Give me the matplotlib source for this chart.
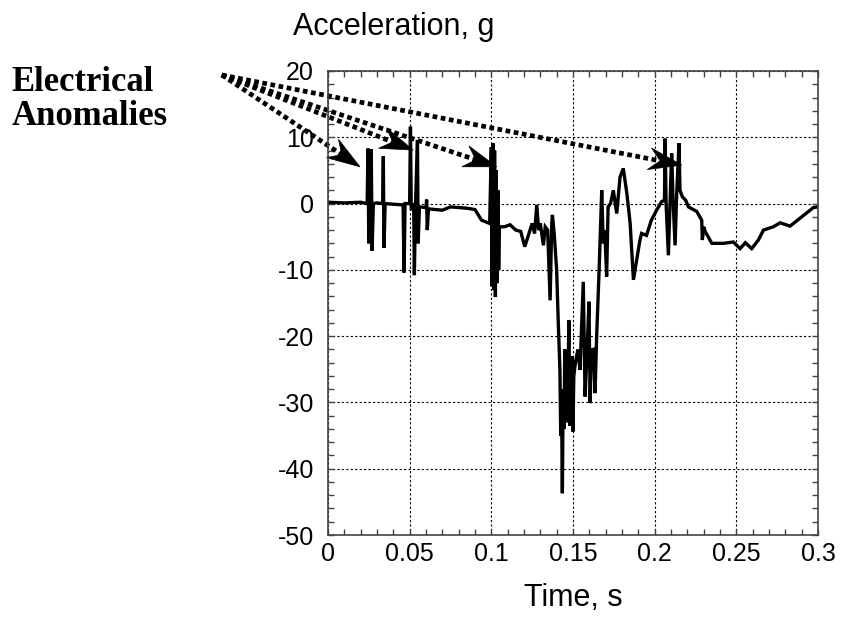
import matplotlib
matplotlib.use("Agg")
import matplotlib.pyplot as plt
import numpy as np
from matplotlib.patches import Polygon
from matplotlib.ticker import MultipleLocator

plt.rcParams['font.family'] = ['Liberation Sans', 'DejaVu Sans']
plt.rcParams['axes.unicode_minus'] = False

# acceleration trace (time in s, accel in g)
time_s = [
    0.000, 0.010, 0.020, 0.0240, 0.0245, 0.0250, 0.0258, 0.0265, 0.0270, 0.0278,
    0.0300, 0.0335, 0.0339, 0.0343, 0.0350, 0.0400, 0.0460, 0.0466, 0.0472, 0.0500,
    0.0505, 0.0510, 0.0525, 0.0529, 0.0535, 0.0548, 0.0552, 0.0560, 0.0600, 0.0604,
    0.0608, 0.0615, 0.0700, 0.0750, 0.0850, 0.0900, 0.0940, 0.0990, 0.1000, 0.1005,
    0.1010, 0.1015, 0.1020, 0.1025, 0.1030, 0.1035, 0.1040, 0.1045, 0.1050, 0.1080,
    0.1115, 0.1150, 0.1180, 0.1205, 0.1237, 0.1250, 0.1265, 0.1278, 0.1290, 0.1300,
    0.1319, 0.1330, 0.1345, 0.1360, 0.1370, 0.1374, 0.1385, 0.1400, 0.1410, 0.1420,
    0.1425, 0.1430, 0.1435, 0.1440, 0.1445, 0.1450, 0.1455, 0.1460, 0.1465, 0.1470,
    0.1475, 0.1480, 0.1485, 0.1490, 0.1495, 0.1500, 0.1505, 0.1515, 0.1530, 0.1543,
    0.1563, 0.1574, 0.1585, 0.1598, 0.1605, 0.1612, 0.1625, 0.1635, 0.1645, 0.1660,
    0.1676, 0.1685, 0.1695, 0.1706, 0.1715, 0.1730, 0.1747, 0.1768, 0.1788, 0.1808,
    0.1830, 0.1850, 0.1870, 0.1890, 0.1910, 0.1920, 0.1950, 0.1980, 0.2012, 0.2043,
    0.2060, 0.2064, 0.2070, 0.2084, 0.2095, 0.2104, 0.2112, 0.2125, 0.2135, 0.2149,
    0.2155, 0.2170, 0.2190, 0.2207, 0.2258, 0.2288, 0.2292, 0.2300, 0.2309, 0.2350,
    0.2420, 0.2482, 0.2523, 0.2555, 0.2594, 0.2635, 0.2666, 0.2727, 0.2768, 0.2829,
    0.2890, 0.2972, 0.3000,
]
accel_g = [
    0.2, 0.1, 0.2, 0.0, 8.3, -6.0, 0.0, 8.2, -7.1, 0.0,
    0.1, 0.0, 7.1, -6.7, 0.0, -0.1, -0.2, -10.4, 0.0, 0.0,
    11.6, -1.0, 0.0, -10.8, -1.0, 9.6, -6.0, -0.5, -0.6, 0.6,
    -4.0, -0.8, -1.0, -0.5, -0.7, -0.9, -2.5, -3.0, 8.5, -12.5,
    9.1, -13.0, 8.0, -14.1, 5.0, -12.0, 2.0, -10.0, -3.5, -3.5,
    -3.2, -4.0, -4.2, -6.5, -4.0, -3.0, -4.5, -0.2, -4.0, -3.0,
    -6.3, -3.5, -4.0, -14.6, -3.0, -1.7, -4.5, -10.0, -18.0, -25.0,
    -35.0, -30.0, -43.7, -28.0, -34.0, -22.0, -32.0, -24.0, -33.0, -26.0,
    -17.6, -33.5, -25.0, -30.0, -23.0, -34.4, -26.0, -24.0, -22.0, -25.1,
    -11.8, -29.1, -23.0, -14.8, -30.1, -22.1, -22.0, -28.6, -20.0, -10.0,
    2.0, -6.0, -4.0, -11.0, -0.5, 0.0, 2.0, -1.5, 4.0, 5.3,
    1.5, -3.0, -11.5, -8.5, -5.5, -4.5, -4.8, -2.5, -1.0, 0.3,
    0.5, 9.8, 0.0, -7.8, 0.5, 7.6, 1.0, -6.3, 1.5, 9.1,
    2.0, 1.0, 0.5, -0.5, -1.2, -2.5, -5.5, -3.5, -4.2, -6.0,
    -6.0, -5.8, -6.8, -5.9, -6.8, -5.5, -4.0, -3.5, -2.9, -3.4,
    -2.2, -0.6, -0.5,
]

# "Electrical Anomalies" callout arrows (common origin, one tip per anomaly)
arrow_origin = (-0.065, 19.4)
arrow_tips_t = [0.0196, 0.0522, 0.1033, 0.2166]
arrow_tips_g = [5.55, 8.07, 5.55, 5.8]

fig = plt.figure(figsize=(8.42, 6.19), dpi=100)
ax = fig.add_axes([0.3895, 0.1357, 0.582, 0.7496])

ax.plot(time_s, accel_g, color='black', lw=2.4, solid_joinstyle='miter')

ax.set_xlim(0, 0.3)
ax.set_ylim(-50, 20)
ax.xaxis.set_minor_locator(MultipleLocator(0.01))
ax.yaxis.set_major_locator(MultipleLocator(10))
ax.yaxis.set_minor_locator(MultipleLocator(2))
ax.set_xticks([0, 0.05, 0.1, 0.15, 0.2, 0.25, 0.3])
ax.set_xticklabels(['0', '0.05', '0.1', '0.15', '0.2', '0.25', '0.3'])

ax.tick_params(which='both', direction='in', top=True, right=True,
               length=4, width=1, color='#444444')
ax.tick_params(axis='y', labelsize=18, pad=10)
ax.tick_params(axis='x', labelsize=18, pad=5)
ax.grid(True, which='major', color='black', lw=0.8, linestyle=(0, (2, 2)))
for sp in ax.spines.values():
    sp.set_color('#444444')
    sp.set_linewidth(1.2)

ax.set_xlabel('Time, s', fontsize=22, labelpad=12)
fig.text(0.467, 0.957, 'Acceleration, g', fontsize=22, ha='center', va='center')

fig.text(0.014, 0.893, 'Electrical\nAnomalies', fontsize=25, fontweight='bold',
         family=['Liberation Serif', 'DejaVu Serif'], ha='left', va='top',
         linespacing=1.05)

# dotted shafts plus barbed heads, head shape built in pixels along each shaft
to_px = ax.transData
to_data = ax.transData.inverted()
p0 = to_px.transform(arrow_origin)
head_len, head_half, notch = 33.0, 11.0, 11.0
for tx, ty in zip(arrow_tips_t, arrow_tips_g):
    tip = to_px.transform((tx, ty))
    u = (tip - p0) / np.hypot(*(tip - p0))
    n = np.array([-u[1], u[0]])
    back = tip - head_len * u
    inner = tip - (head_len - notch) * u
    head_px = np.array([tip, back + head_half * n, inner, back - head_half * n])
    shaft_end = to_data.transform(inner)
    ax.plot([arrow_origin[0], shaft_end[0]], [arrow_origin[1], shaft_end[1]],
            color='black', lw=3.4, linestyle=(0, (1, 0.75)),
            dash_capstyle='butt', clip_on=False)
    ax.add_patch(Polygon(to_data.transform(head_px), closed=True,
                         facecolor='black', edgecolor='black', lw=0.5,
                         clip_on=False))

fig.savefig('out.png', dpi=100)
